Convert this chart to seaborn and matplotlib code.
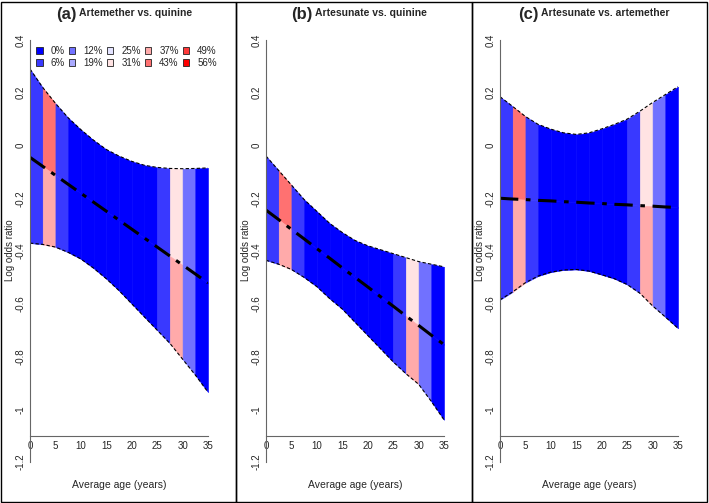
import numpy as np
import pandas as pd
import matplotlib
matplotlib.use('Agg')
import matplotlib.pyplot as plt
from matplotlib.patches import Rectangle, Patch
import seaborn as sns

# age grid (years), strip edges every 2.5 years
ages = [0, 2.5, 5, 7.5, 10, 12.5, 15, 17.5, 20, 22.5, 25, 27.5, 30, 32.5, 35]

pct_labels = ['0%', '6%', '12%', '19%', '25%', '31%', '37%', '43%', '49%', '56%']
pct_colors = ['#0000FF', '#3939FF', '#7171FF', '#AAAAFF', '#E3E3FF',
              '#FFE3E3', '#FFAAAA', '#FF7171', '#FF3939', '#FF0000']

# (a) Artemether vs. quinine
a_mean = [-0.045, -0.079, -0.113, -0.147, -0.181, -0.215, -0.249, -0.283,
          -0.317, -0.351, -0.385, -0.419, -0.453, -0.487, -0.521]
a_upper = [0.29, 0.22, 0.16, 0.105, 0.06, 0.02, -0.015, -0.04, -0.06, -0.075,
           -0.083, -0.087, -0.088, -0.087, -0.085]
a_lower = [-0.37, -0.375, -0.385, -0.405, -0.43, -0.465, -0.505, -0.55, -0.60,
           -0.65, -0.70, -0.75, -0.81, -0.87, -0.935]

# (b) Artesunate vs. quinine
b_mean = [-0.245, -0.281, -0.318, -0.354, -0.391, -0.427, -0.464, -0.500,
          -0.536, -0.573, -0.609, -0.646, -0.682, -0.719, -0.755]
b_upper = [-0.04, -0.095, -0.15, -0.205, -0.25, -0.295, -0.33, -0.36, -0.38,
           -0.395, -0.41, -0.425, -0.44, -0.45, -0.46]
b_lower = [-0.435, -0.45, -0.47, -0.50, -0.535, -0.58, -0.62, -0.67, -0.72,
           -0.77, -0.82, -0.865, -0.905, -0.97, -1.04]

# (c) Artesunate vs. artemether
c_mean = [-0.200, -0.203, -0.205, -0.208, -0.210, -0.213, -0.215, -0.218,
          -0.220, -0.223, -0.225, -0.228, -0.230, -0.233, -0.235]
c_upper = [0.185, 0.148, 0.11, 0.08, 0.062, 0.048, 0.042, 0.048, 0.063, 0.08,
           0.10, 0.13, 0.163, 0.193, 0.223]
c_lower = [-0.585, -0.555, -0.52, -0.495, -0.48, -0.472, -0.47, -0.476, -0.49,
           -0.505, -0.527, -0.56, -0.608, -0.65, -0.693]

# colour index (into pct_colors) of each 2.5-year strip, above / below the mean
strip_upper = [1, 7, 1, 0, 0, 0, 0, 0, 0, 0, 1, 5, 2, 0]
strip_lower = [1, 6, 1, 0, 0, 0, 0, 0, 0, 0, 1, 6, 2, 0]

panels = [
    ('(a)', 'Artemether vs. quinine', a_mean, a_upper, a_lower),
    ('(b)', 'Artesunate vs. quinine', b_mean, b_upper, b_lower),
    ('(c)', 'Artesunate vs. artemether', c_mean, c_upper, c_lower),
]

yticks = [-1.2, -1, -0.8, -0.6, -0.4, -0.2, 0, 0.2, 0.4]
ylabels = ['-1.2', '-1', '-0.8', '-0.6', '-0.4', '-0.2', '0', '0.2', '0.4']
xticks = [0, 5, 10, 15, 20, 25, 30, 35]

sns.set_style('white')
plt.rcParams['font.family'] = ['Liberation Sans', 'DejaVu Sans']

W, H = 709, 503
fig = plt.figure(figsize=(W / 100, H / 100), dpi=100)

axis_left = [30, 266, 500]
box_left = [1, 236, 472]
box_right = [236, 472, 707]
title_split = [77, 313, 539]

for k, (tag, title, mean, upper, lower) in enumerate(panels):
    ax = fig.add_axes([axis_left[k] / W, 41 / H, 178 / W, 422 / H])
    df = pd.DataFrame({'age': ages, 'mean': mean, 'upper': upper, 'lower': lower})

    for i in range(len(ages) - 1):
        seg = df.iloc[i:i + 2]
        cu = pct_colors[strip_upper[i]]
        cl = pct_colors[strip_lower[i]]
        ax.fill_between(seg['age'], seg['mean'], seg['upper'], color=cu, ec=cu, lw=0.4)
        ax.fill_between(seg['age'], seg['lower'], seg['mean'], color=cl, ec=cl, lw=0.4)

    sns.lineplot(data=df, x='age', y='upper', ax=ax, color='black', lw=0.8,
                 ls=(0, (3, 2)))
    sns.lineplot(data=df, x='age', y='lower', ax=ax, color='black', lw=0.8,
                 ls=(0, (3, 2)))
    sns.lineplot(data=df, x='age', y='mean', ax=ax, color='black', lw=2.2,
                 ls=(0, (6, 2.5, 1.5, 2.5)))
    ax.vlines(35, lower[-1], upper[-1], color='black', lw=0.6, ls=(0, (1, 1.5)))

    ax.set_xlim(0, 35)
    ax.set_ylim(-1.2, 0.4)
    ax.set_xticks(xticks)
    ax.set_xticklabels([str(t) for t in xticks])
    ax.set_yticks(yticks)
    ax.set_yticklabels(ylabels, rotation=90, va='center')
    ax.spines['top'].set_visible(False)
    ax.spines['right'].set_visible(False)
    ax.spines['bottom'].set_position(('data', -1.1))
    for s in ['left', 'bottom']:
        ax.spines[s].set_color('#666666')
        ax.spines[s].set_linewidth(0.8)
    ax.tick_params(axis='both', labelsize=7, length=3, width=0.6,
                   color='#666666', pad=0.3, direction='out')
    ax.tick_params(axis='x', pad=1)
    ax.set_xlabel('')
    ax.set_ylabel('')

    # panel titles and axis labels
    fig.text(title_split[k] / W, 1 - 14 / H, tag, ha='right', va='center',
             fontsize=12, fontweight='bold')
    fig.text((title_split[k] + 2) / W, 1 - 13 / H, title, ha='left', va='center',
             fontsize=7.5, fontweight='bold')
    fig.text((axis_left[k] - 20) / W, 1 - 250 / H, 'Log odds ratio', rotation=90,
             ha='center', va='center', fontsize=7)
    fig.text((axis_left[k] + 89) / W, 1 - 485 / H, 'Average age (years)',
             ha='center', va='center', fontsize=7.5)

    fig.patches.append(Rectangle((box_left[k] / W, 1 / H),
                                 (box_right[k] - box_left[k]) / W, 500 / H,
                                 transform=fig.transFigure, fill=False,
                                 ec='black', lw=1.0))

    if k == 0:
        handles = [Patch(facecolor=c, edgecolor='#222222', lw=0.6, label=l)
                   for c, l in zip(pct_colors, pct_labels)]
        ax.legend(handles=handles, ncol=5, loc='upper left',
                  bbox_to_anchor=(0.0, 1.0), frameon=False, fontsize=7,
                  handlelength=0.7, handleheight=0.7, handletextpad=0.8,
                  columnspacing=0.4, labelspacing=0.2, borderaxespad=0.2)

fig.savefig('out.png', dpi=100)
